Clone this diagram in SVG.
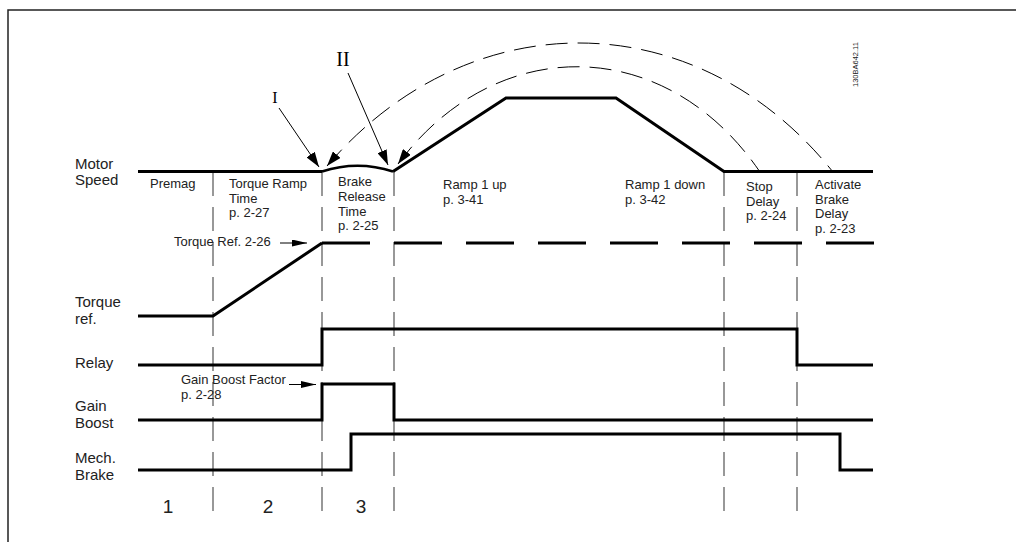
<svg xmlns="http://www.w3.org/2000/svg" width="1016" height="542" viewBox="0 0 1016 542">
<style>
.sig{fill:none;stroke:#000;stroke-width:3;stroke-linejoin:miter;stroke-linecap:butt}
.vd{fill:none;stroke:#777;stroke-width:1.5;stroke-dasharray:24 11}
.arc{fill:none;stroke:#000;stroke-width:1;stroke-dasharray:22 10}
.ar{fill:none;stroke:#000;stroke-width:1}
.lbl{font-family:"Liberation Sans",Arial,sans-serif;font-size:15px;fill:#222}
.sm{font-family:"Liberation Sans",Arial,sans-serif;font-size:13px;fill:#222}
.num{font-family:"Liberation Sans",Arial,sans-serif;font-size:19px;fill:#222;text-anchor:middle}
.rom{font-family:"Liberation Serif","Times New Roman",serif;fill:#000;text-anchor:middle}
</style>
<defs>
<marker id="ah" markerUnits="userSpaceOnUse" markerWidth="15" markerHeight="10" refX="15" refY="5" orient="auto-start-reverse">
<path d="M0,0 L15,5 L0,10 z" fill="#000"/>
</marker>
<marker id="ahs" markerUnits="userSpaceOnUse" markerWidth="15" markerHeight="7" refX="15" refY="3.5" orient="auto">
<path d="M0,0 L15,3.5 L0,7 z" fill="#000"/>
</marker>
</defs>
<rect width="1016" height="542" fill="#fff"/>
<g id="frame">
<path d="M8,542 V10 H1016" fill="none" stroke="#222" stroke-width="1.5"/>
</g>
<g id="phase-lines">
<path class="vd" d="M213,172 V514"/>
<path class="vd" d="M322,172 V514"/>
<path class="vd" d="M394,172 V514"/>
<path class="vd" d="M724,172 V514"/>
<path class="vd" d="M797,172 V514"/>
</g>
<g id="motor-speed">
<path class="sig" d="M138,171.5 H322"/>
<path d="M322,171.5 Q357.5,160 393,171.5" fill="none" stroke="#000" stroke-width="2.5"/>
<path class="sig" d="M393,171.5 L506,98 H616 L724,171.5 H873"/>
<text class="lbl" x="75" y="169">Motor</text>
<text class="lbl" x="75" y="185">Speed</text>
</g>
<g id="torque-ref">
<path class="sig" d="M138,316 H213 L322,243"/>
<path class="sig" d="M322,243 H874" stroke-dasharray="48 24"/>
<text class="lbl" x="75" y="307">Torque</text>
<text class="lbl" x="75" y="324">ref.</text>
</g>
<g id="relay">
<path class="sig" d="M138,365 H322 V329 H797 V365 H873"/>
<text class="lbl" x="75" y="368">Relay</text>
</g>
<g id="gain-boost">
<path class="sig" d="M138,420 H322 V384 H394 V420 H873"/>
<text class="lbl" x="75" y="411">Gain</text>
<text class="lbl" x="75" y="428">Boost</text>
</g>
<g id="mech-brake">
<path class="sig" d="M138,470 H351 V434 H840 V470 H873"/>
<text class="lbl" x="75" y="463">Mech.</text>
<text class="lbl" x="75" y="480">Brake</text>
</g>
<g id="phase-labels">
<text class="sm" x="150" y="188">Premag</text>
<text class="sm" x="229" y="188">Torque Ramp</text>
<text class="sm" x="229" y="203">Time</text>
<text class="sm" x="229" y="217">p. 2-27</text>
<text class="sm" x="338" y="186">Brake</text>
<text class="sm" x="338" y="201">Release</text>
<text class="sm" x="338" y="215.5">Time</text>
<text class="sm" x="338" y="230">p. 2-25</text>
<text class="sm" x="443" y="189">Ramp 1 up</text>
<text class="sm" x="443" y="204">p. 3-41</text>
<text class="sm" x="625" y="189">Ramp 1 down</text>
<text class="sm" x="625" y="204">p. 3-42</text>
<text class="sm" x="746" y="191">Stop</text>
<text class="sm" x="746" y="205.5">Delay</text>
<text class="sm" x="746" y="220">p. 2-24</text>
<text class="sm" x="815" y="189">Activate</text>
<text class="sm" x="815" y="203.5">Brake</text>
<text class="sm" x="815" y="218">Delay</text>
<text class="sm" x="815" y="233">p. 2-23</text>
</g>
<g id="param-labels">
<text class="sm" x="174" y="246">Torque Ref. 2-26</text>
<text class="sm" x="181" y="384">Gain Boost Factor</text>
<text class="sm" x="181" y="399">p. 2-28</text>
</g>
<g id="phase-numbers">
<text class="num" x="168" y="513">1</text>
<text class="num" x="268" y="513">2</text>
<text class="num" x="361" y="513">3</text>
</g>
<g id="annotations">
<text class="rom" x="275" y="103" font-size="16">I</text>
<text class="rom" x="343" y="66" font-size="20">II</text>
<text x="858" y="87" transform="rotate(-90 858 87)" font-family="Liberation Sans,Arial,sans-serif" font-size="7.5" fill="#222">130BA642.11</text>
</g>
<g id="connectors">
<path class="ar" d="M279,108 L319,167" marker-end="url(#ah)"/>
<path class="ar" d="M348,73 L388,165" marker-end="url(#ah)"/>
<path class="arc" d="M327,166 C468,1 696,1 833,172" marker-start="url(#ah)"/>
<path class="arc" d="M398,164 C495,33 665,33 760,172" marker-start="url(#ah)"/>
<path class="ar" d="M280,243 H307" marker-end="url(#ahs)"/>
<path class="ar" d="M289,384.5 H316" marker-end="url(#ahs)"/>
</g>
</svg>
